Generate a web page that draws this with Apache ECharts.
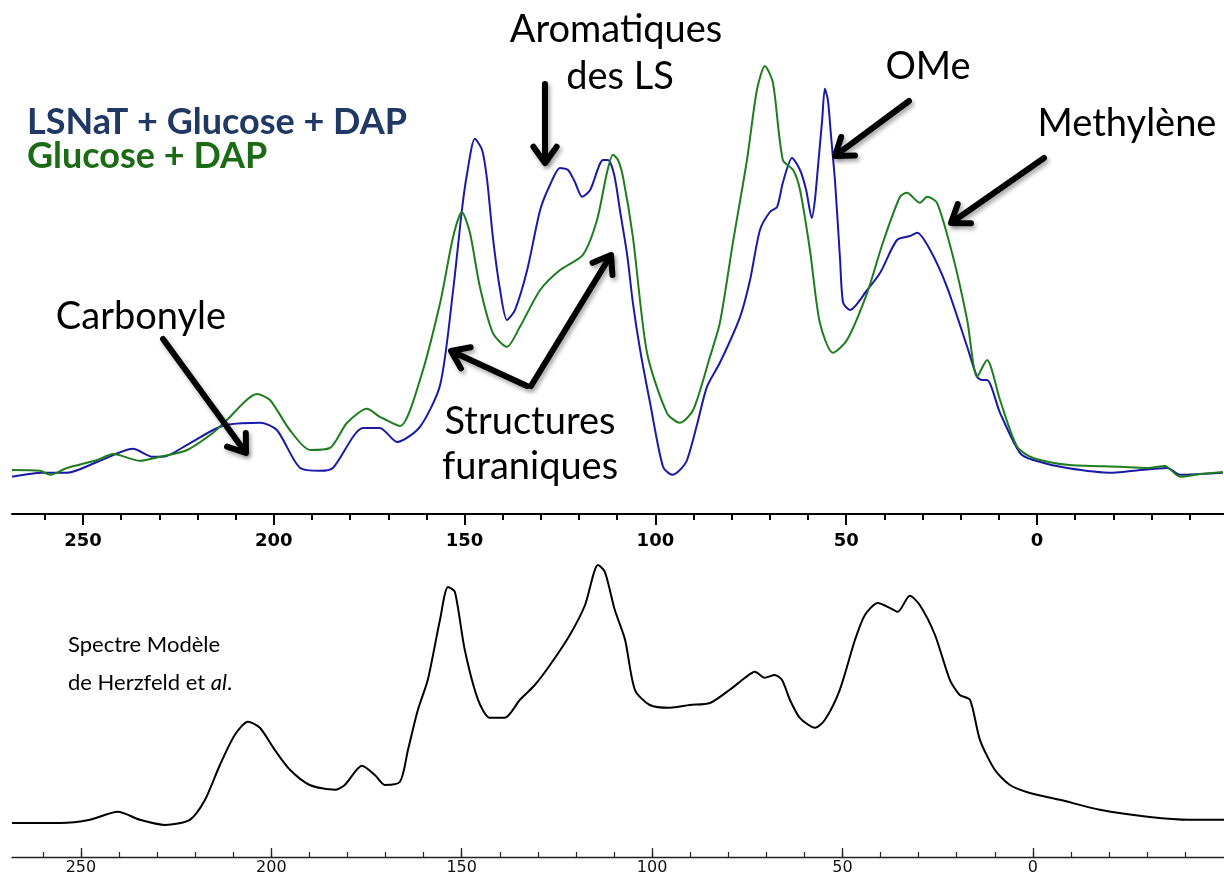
<!DOCTYPE html>
<html>
<head>
<meta charset="utf-8">
<script src="https://cdn.jsdelivr.net/npm/echarts@6/dist/echarts.min.js"></script>
<style>
html,body{margin:0;padding:0;background:#fff;}
#chart{width:1224px;height:877px;}
</style>
</head>
<body>
<div id="chart"></div>
<script>
// ---- Data (chemical shift in ppm, intensity in arbitrary units) ----
const blueShift = [268.6,260.5,254.2,246.3,236.9,231.7,229.0,222.7,215.9,212.3,203.6,199.2,193.1,187.9,184.5,176.6,172.2,167.7,161.7,156.4,153.0,150.7,149.4,147.3,145.4,144.1,142.6,140.7,138.9,136.8,133.6,130.2,127.6,125.0,122.9,121.1,119.2,117.1,113.7,112.4,110.8,109.3,107.4,105.9,104.0,101.4,98.0,95.6,93.6,91.7,89.1,86.5,83.1,77.8,75.2,72.6,70.0,68.1,66.6,64.2,62.1,60.5,59.0,58.2,57.4,56.3,55.6,54.8,54.0,52.9,51.6,50.8,49.0,44.5,41.1,36.7,33.3,31.4,28.0,23.6,18.3,15.7,14.4,13.1,9.7,4.5,1.0,-7.9,-19.9,-27.0,-34.1,-37.5,-42.7,-48.7];
const blueIntensity = [0.3,1.3,1.3,4.0,7.3,5.3,5.3,8.3,12.0,13.3,13.8,12.0,2.5,1.8,2.5,12.5,12.5,9.0,12.8,23.3,47.0,67.0,75.8,84.8,82.0,74.5,60.3,47.0,39.5,42.0,52.0,67.0,73.3,77.5,77.0,74.0,70.3,72.0,79.5,79.5,75.8,67.0,55.8,43.8,32.0,18.8,2.8,0.8,2.0,4.5,13.3,22.8,28.8,40.3,49.5,62.0,66.5,67.8,73.8,80.0,77.0,72.0,65.0,69.5,77.8,89.5,97.3,94.5,85.8,73.8,54.5,43.8,42.0,47.0,51.3,59.5,60.5,61.3,57.0,47.8,32.8,25.3,24.5,24.5,16.3,6.3,4.5,2.5,1.3,2.0,2.5,0.8,1.0,1.3];

const greenShift = [268.6,261.3,258.6,254.2,246.3,242.1,235.1,229.8,222.7,215.9,212.3,204.4,201.0,195.8,190.5,185.3,180.8,175.6,172.2,166.9,161.7,156.4,153.0,150.7,148.6,146.0,142.6,138.9,135.5,130.2,125.0,119.0,115.3,112.7,111.1,109.8,108.5,105.9,102.2,97.0,93.6,90.1,85.7,83.1,79.7,76.0,73.4,71.3,69.2,66.6,63.9,62.1,59.5,56.9,53.5,49.8,44.5,40.4,35.9,34.1,30.7,28.8,26.2,22.0,18.3,15.7,13.1,9.7,5.2,1.0,-7.9,-21.8,-28.8,-33.5,-37.5,-42.7,-48.7];
const greenIntensity = [2.0,1.8,0.8,2.5,4.5,6.0,4.3,5.3,7.0,11.3,14.5,21.0,19.5,12.0,7.0,7.5,13.8,17.3,15.3,13.0,24.5,43.8,60.3,66.5,61.3,47.8,36.3,32.8,37.8,47.0,52.0,55.8,64.5,76.3,80.8,79.5,75.3,60.3,31.3,16.3,13.8,17.0,30.3,38.8,58.8,79.5,97.0,103.0,98.8,79.5,77.0,72.0,57.0,38.8,31.3,34.5,46.3,58.8,70.3,71.3,68.8,70.3,68.8,55.3,39.5,25.3,29.5,19.5,7.8,5.0,3.3,2.8,2.5,3.0,0.3,1.0,1.5];

const modelShift = [268.1,255.5,247.6,240.3,234.5,227.9,221.4,217.4,213.5,209.6,206.1,203.0,199.1,195.1,189.9,183.3,180.7,176.2,172.8,170.2,166.2,164.1,161.5,158.9,155.7,153.6,151.8,149.2,145.7,142.6,138.7,134.7,130.8,126.8,121.6,117.6,114.2,112.4,109.8,107.1,104.5,100.6,95.3,90.1,84.8,79.6,75.6,73.0,70.4,67.8,65.9,63.8,61.2,57.2,54.6,50.7,46.7,44.1,40.7,37.6,35.5,32.3,29.7,25.7,21.8,19.2,16.5,13.9,10.0,6.0,0.8,-7.1,-17.6,-30.7,-41.2,-50.2];
const modelIntensity = [0.5,0.5,1.3,3.3,1.3,0,1.3,6.3,15.0,22.5,25.8,24.3,18.8,13.8,10.0,8.8,10.0,14.8,12.5,10.0,10.8,18.8,28.8,36.3,51.3,59.5,58.3,43.8,31.3,26.8,26.8,31.3,35.0,40.0,47.5,55.0,65.0,63.3,53.8,46.3,33.8,30.0,29.3,30.0,30.5,33.8,36.8,38.3,36.8,37.5,36.3,31.3,26.8,24.3,26.3,33.8,46.3,52.5,55.5,54.3,53.3,57.3,55.0,47.5,36.3,32.5,31.3,21.3,13.8,10.0,8.0,6.3,3.8,2.0,1.3,1.3];

const majorTicks = [250,200,150,100,50,0];
const minorTicks = [260,250,240,230,220,210,200,190,180,170,160,150,140,130,120,110,100,90,80,70,60,50,40,30,20,10,0,-10,-20,-30,-40];

const legendLabels = ['LSNaT + Glucose + DAP','Glucose + DAP'];

function zip(a,b){ return a.map((v,i)=>[v,b[i]]); }

const chart = echarts.init(document.getElementById('chart'), null, {renderer:'canvas'});

const TXT = 'Lato, "Open Sans", sans-serif';

function arrow(x1,y1,x2,y2){
  const ang = Math.atan2(y2-y1,x2-x1);
  const L = 20, a = 0.62;
  const p1 = [x2 - L*Math.cos(ang-a), y2 - L*Math.sin(ang-a)];
  const p2 = [x2 - L*Math.cos(ang+a), y2 - L*Math.sin(ang+a)];
  const st = {stroke:'#000', lineWidth:6, lineCap:'round', lineJoin:'round', fill:null,
    shadowBlur:4, shadowColor:'rgba(0,0,0,0.35)', shadowOffsetX:2, shadowOffsetY:3};
  return [
    {type:'polyline', silent:true, shape:{points:[[x1,y1],[x2-3*Math.cos(ang),y2-3*Math.sin(ang)]]}, style:st, z:100},
    {type:'polyline', silent:true, shape:{points:[p1,[x2,y2],p2]}, style:st, z:100}
  ];
}

function label(text, cx, cy, size){
  return {type:'text', silent:true, z:110, x:cx, y:cy,
    style:{text:text, fontFamily:TXT, fontSize:size, fill:'#000', align:'center', verticalAlign:'middle'}};
}

const graphics = [].concat(
  arrow(163,339,246,453),
  arrow(545,84,545,163),
  arrow(527,386,451,351),
  arrow(531,386,611,255),
  arrow(909,101,835,156),
  arrow(1044,158,951,223),
  [
    label('Aromatiques', 616, 30, 38),
    label('des LS', 620, 77, 38),
    label('OMe', 928, 67, 38),
    label('Methylène', 1127, 124, 38),
    label('Carbonyle', 141, 317, 38),
    label('Structures', 530, 422, 38),
    label('furaniques', 530, 467, 38),
    {type:'text', silent:true, z:110, x:27, y:122,
      style:{text:legendLabels[0], fontFamily:TXT, fontWeight:'bold', fontSize:36, fill:'#1f3864', align:'left', verticalAlign:'middle'}},
    {type:'text', silent:true, z:110, x:27, y:156,
      style:{text:legendLabels[1], fontFamily:TXT, fontWeight:'bold', fontSize:36, fill:'#1a6b14', align:'left', verticalAlign:'middle'}},
    {type:'text', silent:true, z:110, x:68, y:645,
      style:{text:'Spectre Modèle', fontFamily:TXT, fontSize:22, fill:'#000', align:'left', verticalAlign:'middle'}},
    {type:'text', silent:true, z:110, x:68, y:683,
      style:{text:'{n|de Herzfeld et }{i|al}{n|.}', fontFamily:TXT, fontSize:22, fill:'#000', align:'left', verticalAlign:'middle',
        rich:{n:{fontFamily:TXT, fontSize:22, fill:'#000'}, i:{fontFamily:TXT, fontSize:22, fontStyle:'italic', fill:'#000'}}}}
  ]
);

const option = {
  backgroundColor:'#ffffff',
  animation:false,
  grid:[
    {left:12, right:0, top:38, bottom:363, containLabel:false},
    {left:12, right:0, top:545, bottom:20, containLabel:false}
  ],
  xAxis:[
    {type:'value', gridIndex:0, position:'bottom', min:-49, max:268.6, inverse:true,
      axisLine:{show:true, onZero:false, lineStyle:{color:'#000', width:2}},
      axisTick:{show:true, customValues:majorTicks, length:11, lineStyle:{color:'#000', width:2}},
      axisLabel:{show:true, customValues:majorTicks, margin:18, fontFamily:'"DejaVu Sans", Verdana, sans-serif', fontWeight:'bold', fontSize:18, color:'#000'},
      splitLine:{show:false}},
    {type:'value', gridIndex:0, position:'bottom', min:-49, max:268.6, inverse:true,
      axisLine:{show:false, onZero:false},
      axisTick:{show:true, customValues:minorTicks, length:6, lineStyle:{color:'#000', width:2}},
      axisLabel:{show:false}, splitLine:{show:false}},
    {type:'value', gridIndex:1, position:'bottom', min:-50.2, max:268.1, inverse:true,
      axisLine:{show:true, onZero:false, lineStyle:{color:'#222', width:1.3}},
      axisTick:{show:true, inside:true, customValues:majorTicks, length:9, lineStyle:{color:'#222', width:1.3}},
      axisLabel:{show:true, customValues:majorTicks, margin:3, fontFamily:'"DejaVu Sans", sans-serif', fontSize:16, color:'#111'},
      splitLine:{show:false}},
    {type:'value', gridIndex:1, position:'bottom', min:-50.2, max:268.1, inverse:true,
      axisLine:{show:false, onZero:false},
      axisTick:{show:true, inside:true, customValues:minorTicks, length:5, lineStyle:{color:'#222', width:1.2}},
      axisLabel:{show:false}, splitLine:{show:false}}
  ],
  yAxis:[
    {type:'value', gridIndex:0, min:-9, max:110, show:false},
    {type:'value', gridIndex:1, min:-8, max:70, show:false}
  ],
  series:[
    {name:legendLabels[0], type:'line', xAxisIndex:0, yAxisIndex:0, data:zip(blueShift,blueIntensity),
      showSymbol:false, smooth:0.25, lineStyle:{color:'#1a1aa8', width:2}, z:3},
    {name:legendLabels[1], type:'line', xAxisIndex:0, yAxisIndex:0, data:zip(greenShift,greenIntensity),
      showSymbol:false, smooth:0.25, lineStyle:{color:'#1f7d1f', width:2}, z:4},
    {name:'Spectre Modèle', type:'line', xAxisIndex:2, yAxisIndex:1, data:zip(modelShift,modelIntensity),
      showSymbol:false, smooth:0.25, lineStyle:{color:'#000', width:2}, z:3}
  ],
  graphic:graphics
};
chart.setOption(option);
</script>
</body>
</html>
